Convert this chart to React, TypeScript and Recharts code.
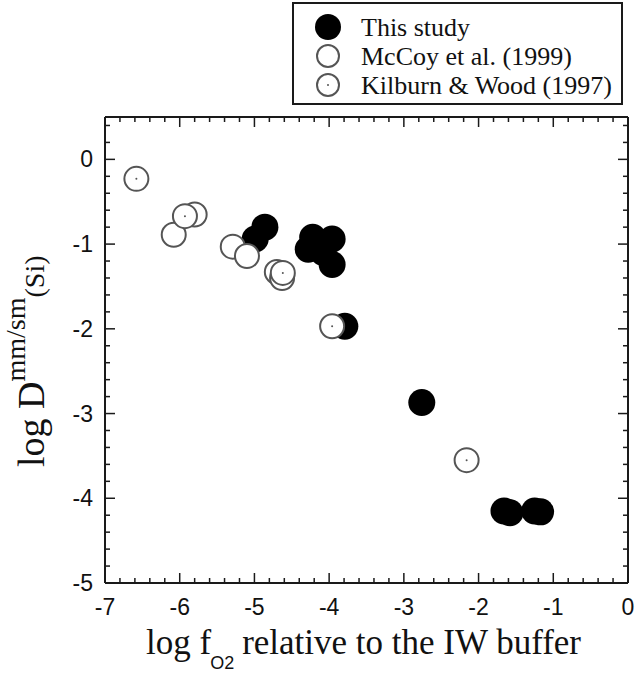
import { ScatterChart, Scatter, XAxis, YAxis, Legend } from 'recharts';

// values
const thisStudy = [
  { x: -4.86, y: -0.8 },
  { x: -4.99, y: -0.94 },
  { x: -4.22, y: -0.92 },
  { x: -4.28, y: -1.06 },
  { x: -4.08, y: -1.1 },
  { x: -3.96, y: -0.94 },
  { x: -3.96, y: -1.24 },
  { x: -3.79, y: -1.97 },
  { x: -2.76, y: -2.87 },
  { x: -1.66, y: -4.15 },
  { x: -1.58, y: -4.17 },
  { x: -1.25, y: -4.15 },
  { x: -1.17, y: -4.16 },
];

const mcCoy = [
  { x: -6.08, y: -0.89 },
  { x: -5.8, y: -0.65 },
  { x: -5.29, y: -1.03 },
  { x: -5.1, y: -1.14 },
  { x: -4.7, y: -1.33 },
  { x: -4.63, y: -1.4 },
];

const kilburnWood = [
  { x: -6.58, y: -0.23 },
  { x: -5.93, y: -0.67 },
  { x: -4.62, y: -1.34 },
  { x: -3.96, y: -1.97 },
  { x: -2.16, y: -3.55 },
];

const xDomain: [number, number] = [-7, 0];
const yDomain: [number, number] = [-5, 0.5];

const legendItems = [
  { label: 'This study', kind: 'filled' },
  { label: 'McCoy et al. (1999)', kind: 'open' },
  { label: 'Kilburn & Wood (1997)', kind: 'dotted' },
];

// minor ticks every 0.2, labels on the whole numbers
const steps = (from: number, to: number) => {
  const out: number[] = [];
  for (let i = 0; from + i * 0.2 <= to + 1e-9; i++) out.push(Math.round((from + i * 0.2) * 10) / 10);
  return out;
};
const xTicks = steps(xDomain[0], xDomain[1]);
const yTicks = steps(yDomain[0], yDomain[1]);

const isMajor = (v: number) => Math.abs(v - Math.round(v)) < 1e-6;

const INK = '#1a1a1a';
const SANS = '"Liberation Sans", Arial, sans-serif';
const SERIF = '"Liberation Serif", "Times New Roman", serif';

function makeTick(side: 'bottom' | 'top' | 'left' | 'right') {
  return (props: any) => {
    const { x, y, payload } = props;
    const v = payload.value as number;
    const major = isMajor(v);
    const len = major ? 10 : 5;
    let line;
    if (side === 'bottom') line = <line x1={x} x2={x} y1={y} y2={y - len} />;
    else if (side === 'top') line = <line x1={x} x2={x} y1={y} y2={y + len} />;
    else if (side === 'left') line = <line x1={x} x2={x + len} y1={y} y2={y} />;
    else line = <line x1={x} x2={x - len} y1={y} y2={y} />;
    return (
      <g>
        <g stroke={INK} strokeWidth={1.5}>{line}</g>
        {major && side === 'bottom' && (
          <text x={x} y={y + 32} textAnchor="middle" fontFamily={SANS} fontSize={23} fill="#111">
            {v}
          </text>
        )}
        {major && side === 'left' && (
          <text x={x - 12} y={y + 8} textAnchor="end" fontFamily={SANS} fontSize={23} fill="#111">
            {v}
          </text>
        )}
      </g>
    );
  };
}

const FilledDot = (props: any) => <circle cx={props.cx} cy={props.cy} r={13.5} fill="#000" />;
const OpenDot = (props: any) => (
  <circle cx={props.cx} cy={props.cy} r={12} fill="#fff" stroke="#555" strokeWidth={2} />
);
const DottedDot = (props: any) => (
  <g>
    <circle cx={props.cx} cy={props.cy} r={12} fill="#fff" stroke="#555" strokeWidth={2} />
    <circle cx={props.cx} cy={props.cy} r={1} fill="#555" />
  </g>
);

function LegendBox() {
  return (
    <svg width={332} height={104}>
      <rect x={1} y={1} width={329} height={101} fill="#fff" stroke={INK} strokeWidth={2} />
      {legendItems.map((item, i) => {
        const cy = 25 + i * 29;
        return (
          <g key={item.label}>
            {item.kind === 'filled' ? (
              <circle cx={36} cy={cy} r={13} fill="#000" />
            ) : (
              <circle cx={36} cy={cy} r={11} fill="#fff" stroke="#555" strokeWidth={2} />
            )}
            {item.kind === 'dotted' && <circle cx={36} cy={cy} r={1} fill="#555" />}
            <text x={69} y={cy + 9} fontFamily={SERIF} fontSize={26} fill="#111">
              {item.label}
            </text>
          </g>
        );
      })}
    </svg>
  );
}

function XTitle(props: any) {
  const vb = props.viewBox || { x: 105, y: 583 };
  return (
    <text x={vb.x + 41} y={vb.y + 71} fontFamily={SERIF} fontSize={35} fill="#111">
      log f
      <tspan fontFamily={SANS} fontSize={18} dy={15} dx={-1}>
        O2
      </tspan>
      <tspan dy={-15} dx={8}>
        relative to the IW buffer
      </tspan>
    </text>
  );
}

function YTitle(props: any) {
  const vb = props.viewBox || { x: 105, y: 117 };
  const bx = vb.x + vb.width - 61;
  const by = vb.y + 350;
  return (
    <text
      x={bx}
      y={by}
      transform={`rotate(-90 ${bx} ${by})`}
      fontFamily={SERIF}
      fontSize={38}
      fill="#111"
    >
      log D
      <tspan fontSize={28} dy={-19}>
        mm/sm
      </tspan>
      <tspan fontSize={28} dy={19}>
        (Si)
      </tspan>
    </text>
  );
}

export default function App() {
  return (
    <div style={{ position: 'absolute', left: 0, top: 0, background: '#fff' }}>
      <ScatterChart width={635} height={675} margin={{ top: 116, right: 6, bottom: 91, left: 104 }}>
        <XAxis
          type="number"
          dataKey="x"
          domain={xDomain}
          ticks={xTicks}
          interval={0}
          height={1}
          tickSize={0}
          tickMargin={0}
          tickLine={false}
          axisLine={{ stroke: INK, strokeWidth: 2 }}
          tick={makeTick('bottom')}
          allowDataOverflow
          label={<XTitle />}
        />
        <XAxis
          xAxisId="top"
          orientation="top"
          type="number"
          dataKey="x"
          domain={xDomain}
          ticks={xTicks}
          interval={0}
          height={1}
          tickSize={0}
          tickMargin={0}
          tickLine={false}
          axisLine={{ stroke: INK, strokeWidth: 2 }}
          tick={makeTick('top')}
          allowDataOverflow
        />
        <YAxis
          type="number"
          dataKey="y"
          domain={yDomain}
          ticks={yTicks}
          interval={0}
          width={1}
          tickSize={0}
          tickMargin={0}
          tickLine={false}
          axisLine={{ stroke: INK, strokeWidth: 2 }}
          tick={makeTick('left')}
          allowDataOverflow
          label={<YTitle />}
        />
        <YAxis
          yAxisId="right"
          orientation="right"
          type="number"
          dataKey="y"
          domain={yDomain}
          ticks={yTicks}
          interval={0}
          width={1}
          tickSize={0}
          tickMargin={0}
          tickLine={false}
          axisLine={{ stroke: INK, strokeWidth: 2 }}
          tick={makeTick('right')}
          allowDataOverflow
        />
        <Scatter name="This study" data={thisStudy} shape={FilledDot} isAnimationActive={false} />
        <Scatter name="McCoy et al. (1999)" data={mcCoy} shape={OpenDot} isAnimationActive={false} />
        <Scatter name="Kilburn & Wood (1997)" data={kilburnWood} shape={DottedDot} isAnimationActive={false} />
        <Legend
          layout="horizontal"
          verticalAlign="middle"
          align="center"
          content={() => <LegendBox />}
          wrapperStyle={{ left: 292, top: 2, width: 332, height: 104 }}
        />
      </ScatterChart>
    </div>
  );
}
